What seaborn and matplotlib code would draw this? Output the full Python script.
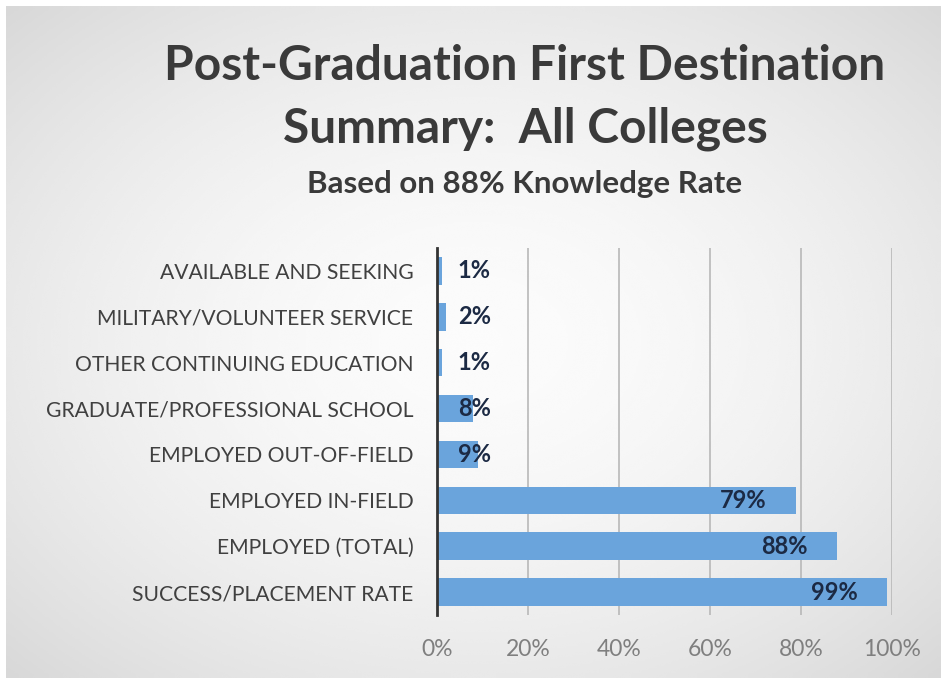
import numpy as np
import pandas as pd
import matplotlib
matplotlib.use("Agg")
import matplotlib.pyplot as plt
import seaborn as sns

# Data
categories = [
    "AVAILABLE AND SEEKING",
    "MILITARY/VOLUNTEER SERVICE",
    "OTHER CONTINUING EDUCATION",
    "GRADUATE/PROFESSIONAL SCHOOL",
    "EMPLOYED OUT-OF-FIELD",
    "EMPLOYED IN-FIELD",
    "EMPLOYED (TOTAL)",
    "SUCCESS/PLACEMENT RATE",
]
values = [1, 2, 1, 8, 9, 79, 88, 99]
x_ticks = [0, 20, 40, 60, 80, 100]
x_tick_labels = ["0%", "20%", "40%", "60%", "80%", "100%"]

df = pd.DataFrame({"category": categories, "value": values})

sns.set_theme(style="white")
plt.rcParams["font.family"] = ["Lato", "DejaVu Sans"]

W, H = 941, 678
fig = plt.figure(figsize=(W / 100, H / 100), dpi=100)
fig.patch.set_facecolor("white")

# Gradient background panel
bg = fig.add_axes([6 / W, 0, (W - 6) / W, (H - 6) / H])
yy, xx = np.mgrid[-1:1:300j, -1:1:400j]
r = np.sqrt((xx * 0.85) ** 2 + (yy * 0.85) ** 2)
shade = 0.985 - 0.10 * np.clip(r, 0, 1.3) ** 1.8
bg.imshow(shade, cmap="gray", vmin=0, vmax=1, aspect="auto",
          extent=[0, 1, 0, 1], interpolation="bicubic")
bg.axis("off")

ax = fig.add_axes([437 / W, 1 - 615 / H, (892 - 437) / W, (615 - 248) / H])
ax.patch.set_alpha(0)

sns.barplot(data=df, y="category", x="value", orient="h",
            color="#6aa4dc", saturation=1, width=0.6, linewidth=0, ax=ax)

ax.set_xlim(0, 100)
ax.set_xticks(x_ticks)
ax.set_xticklabels(x_tick_labels, color="#7f7f7f", fontsize=16.5)
ax.tick_params(axis="x", length=0, pad=17)
ax.tick_params(axis="y", length=0, pad=17, labelsize=15.2, labelcolor="#404040")
ax.set_xlabel("")
ax.set_ylabel("")
ax.set_axisbelow(True)
ax.grid(axis="x", color="#b8b8b8", linewidth=1.2)
ax.grid(axis="y", visible=False)
for side in ["top", "right", "bottom"]:
    ax.spines[side].set_visible(False)
ax.spines["left"].set_color("#333333")
ax.spines["left"].set_linewidth(2)

for i, v in enumerate(values):
    if v < 10:
        ax.text(4.6, i, f"{v}%", ha="left", va="center",
                fontsize=17, fontweight="bold", color="#1c2a44")
    else:
        ax.text(v - 6.5, i, f"{v}%", ha="right", va="center",
                fontsize=17, fontweight="bold", color="#1c2a44")

fig.text(525 / W, 1 - 66 / H, "Post-Graduation First Destination",
         ha="center", va="center", fontsize=34.5, fontweight="bold", color="#3a3a3a")
fig.text(525 / W, 1 - 129 / H, "Summary:  All Colleges",
         ha="center", va="center", fontsize=34.5, fontweight="bold", color="#3a3a3a")
fig.text(525 / W, 1 - 184 / H, "Based on 88% Knowledge Rate",
         ha="center", va="center", fontsize=22.5, fontweight="bold", color="#3a3a3a")

fig.savefig("out.png", dpi=100)
